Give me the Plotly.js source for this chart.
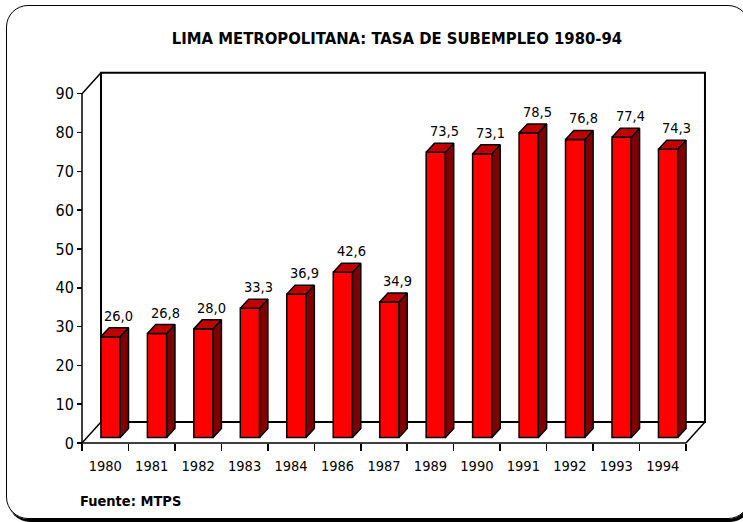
<!DOCTYPE html>
<html><head><meta charset="utf-8">
<script src="https://cdn.plot.ly/plotly-3.0.1.min.js"></script>
<style>
html,body{margin:0;padding:0;background:#fff;overflow:hidden;width:743px;height:522px;}
#chart{position:absolute;left:0;top:0;width:743px;height:522px;}
#frame{position:absolute;left:6px;top:5px;width:742px;height:512px;border:1.5px solid #000;border-radius:22px;box-shadow:2px 3px 0 #000;pointer-events:none;}
</style></head><body>
<div id="chart"></div><div id="frame"></div>
<script>
// ---- data ----
const categories = ['1980','1981','1982','1983','1984','1986','1987','1989','1990','1991','1992','1993','1994'];
const values = [26.0, 26.8, 28.0, 33.3, 36.9, 42.6, 34.9, 73.5, 73.1, 78.5, 76.8, 77.4, 74.3];
const valueLabels = ['26,0','26,8','28,0','33,3','36,9','42,6','34,9','73,5','73,1','78,5','76,8','77,4','74,3'];
const yTicks = [0, 10, 20, 30, 40, 50, 60, 70, 80, 90];
const titleText = 'LIMA METROPOLITANA: TASA DE SUBEMPLEO 1980-94';
const sourceText = 'Fuente: MTPS';

// ---- geometry (pixels -> axis scale) ----
const FONT = '"Liberation Sans Narrow", "Arial Narrow", "DejaVu Sans Condensed", sans-serif';
const W = 743, H = 522;
const X0PX = 82, Y0PX = 443;          // where x=0 / y=0 fall
const PX_X = 46.46, PX_Y = 3.881;     // px per category / per unit
const PL = 78, PR = 709, PT = 68, PB = 447;
const N = categories.length;
const YMAX = 90;
const DX = 19 / PX_X, DY = 21 / PX_Y;  // 3D depth of the chart box
const BAR_W = 0.415, BAR_OFF = 0.115;
const F0 = 0.26;                        // bar front face depth
const SDX = 8.3 / PX_X, SDY = 9 / PX_Y; // bar depth

const xr = [(PL - X0PX) / PX_X, (PR - X0PX) / PX_X];
const yr = [(Y0PX - PB) / PX_Y, (Y0PX - PT) / PX_Y];

const centers = categories.map((c, i) => i + 0.5);
const barX = centers.map(c => c + BAR_OFF);
const baseY = F0 * DY;

const topX = [], topY = [], sideX = [], sideY = [];
values.forEach((v, i) => {
  const xl = barX[i] - BAR_W / 2, xrr = barX[i] + BAR_W / 2;
  const yt = v + baseY, yb = baseY;
  topX.push(xl, xrr, xrr + SDX, xl + SDX, xl, null);
  topY.push(yt, yt, yt + SDY, yt + SDY, yt, null);
  sideX.push(xrr, xrr, xrr + SDX, xrr + SDX, xrr, null);
  sideY.push(yb, yt, yt + SDY, yb + SDY, yb, null);
});

const traces = [
  {type: 'bar', x: barX, y: values, base: values.map(() => baseY), width: BAR_W,
   marker: {color: '#FF0000', line: {color: '#000', width: 1.5}}, hoverinfo: 'skip'},
  {type: 'scatter', mode: 'lines', x: sideX, y: sideY, fill: 'toself', fillcolor: '#800000',
   line: {color: '#000', width: 1.5}, hoverinfo: 'skip'},
  {type: 'scatter', mode: 'lines', x: topX, y: topY, fill: 'toself', fillcolor: '#C00000',
   line: {color: '#000', width: 1.5}, hoverinfo: 'skip'}
];

const ln = (x0, y0, x1, y1, w) => ({type: 'line', xref: 'x', yref: 'y', x0, y0, x1, y1, layer: 'below',
  line: {color: '#000', width: w}});
const shapes = [
  {type: 'rect', xref: 'x', yref: 'y', x0: DX, y0: DY, x1: N + DX, y1: YMAX + DY, layer: 'below',
   line: {color: '#000', width: 2}},
  ln(0, 0, N, 0, 1.5),
  ln(0, 0, DX, DY, 1.5),
  ln(N, 0, N + DX, DY, 1.5),
  ln(0, 0, 0, YMAX, 1.5),
  ln(0, YMAX, DX, YMAX + DY, 1.5)
];

const annotations = values.map((v, i) => ({
  x: barX[i] + 0.18, y: v + baseY, xref: 'x', yref: 'y', text: valueLabels[i],
  showarrow: false, xanchor: 'center', yanchor: 'middle', yshift: 21,
  font: {family: FONT, size: 14.5, color: '#000'}
}));
annotations.push({
  xref: 'paper', yref: 'paper', x: 0, y: (PB - 501) / (PB - PT), xanchor: 'left', yanchor: 'middle',
  text: '<b>' + sourceText + '</b>', showarrow: false, font: {family: FONT, size: 14.5, color: '#000'}
});

const layout = {
  width: W, height: H,
  margin: {l: PL, r: W - PR, t: PT, b: H - PB, pad: 0},
  paper_bgcolor: 'rgba(0,0,0,0)', plot_bgcolor: 'rgba(0,0,0,0)',
  showlegend: false, barmode: 'overlay',
  font: {family: FONT, color: '#000'},
  title: {text: '<b>' + titleText + '</b>', font: {family: FONT, size: 16.5, color: '#000'},
          xref: 'container', yref: 'container', x: 397 / W, y: 1 - 38 / H, xanchor: 'center', yanchor: 'middle'},
  xaxis: {range: xr, anchor: 'free', position: (PB - Y0PX) / (PB - PT),
          tickmode: 'array', tickvals: centers, ticktext: categories, ticks: '', ticklabelstandoff: 12,
          minor: {tickmode: 'array', tickvals: categories.map((c, i) => i).concat([N]), ticks: 'outside',
                  ticklen: 7, tickwidth: 1.5, tickcolor: '#000'},
          showline: false, showgrid: false, zeroline: false, fixedrange: true,
          tickfont: {family: FONT, size: 14.5, color: '#000'}},
  yaxis: {range: yr, anchor: 'free', position: (X0PX - PL) / (PR - PL),
          tickmode: 'array', tickvals: yTicks, ticks: 'outside', ticklen: 5, tickwidth: 1.5, tickcolor: '#000',
          showline: false, showgrid: false, zeroline: false, fixedrange: true,
          tickfont: {family: FONT, size: 16, color: '#000'}},
  shapes, annotations
};

Plotly.newPlot('chart', traces, layout, {staticPlot: true, displayModeBar: false});
</script>
</body></html>
